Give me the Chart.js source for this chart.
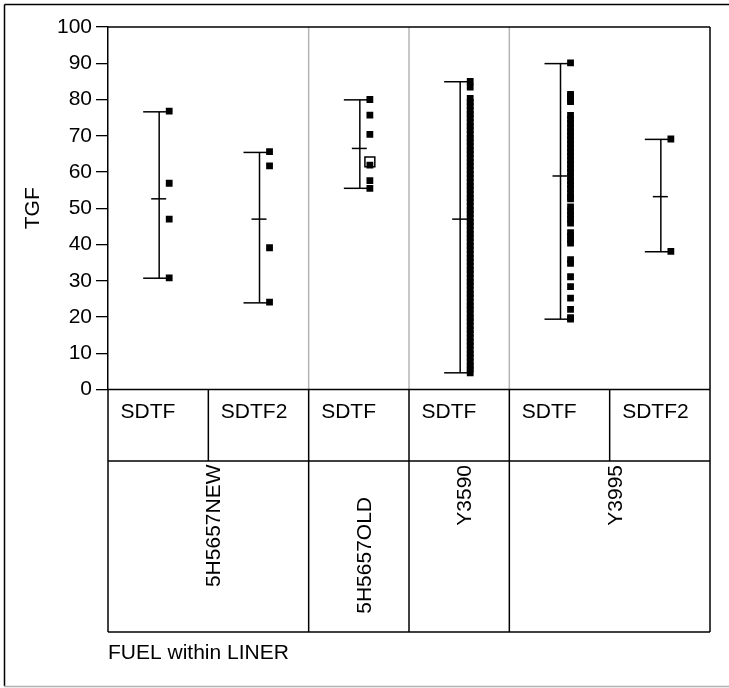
<!DOCTYPE html>
<html>
<head>
<meta charset="utf-8">
<script src="https://cdn.jsdelivr.net/npm/chart.js@4"></script>
<style>
  html, body { margin: 0; padding: 0; background: #fff; }
  canvas { display: block; }
</style>
</head>
<body>
<canvas id="tgfChart" width="729" height="688"></canvas>
<script>
// categories: fuel groups and the liners inside each
const fuels = ['5H5657NEW', '5H5657OLD', 'Y3590', 'Y3995'];
const liners = [['SDTF', 'SDTF2'], ['SDTF'], ['SDTF'], ['SDTF', 'SDTF2']];
const yTicks = [0, 10, 20, 30, 40, 50, 60, 70, 80, 90, 100];

// TGF values, one array per column
const tgfNewSdtf = [76.8, 56.9, 47.0, 30.8];
const tgfNewSdtf2 = [65.6, 61.7, 39.1, 24.1];
const tgfOldSdtf = [80.0, 75.7, 70.4, 61.9, 57.6, 55.5];
const tgfOldOpen = [62.8];
const tgfY3590Sdtf = [85.0, 83.4, 80.3, 79.2, 78.2, 77.0, 75.9, 74.9, 73.7, 72.6, 71.6, 70.4,
    69.3, 68.3, 67.1, 66.0, 65.0, 63.8, 62.7, 61.7, 60.5, 59.4, 58.4, 57.2, 56.1, 55.1, 53.9,
    52.8, 51.8, 50.6, 49.5, 48.5, 47.3, 46.2, 45.2, 44.0, 42.9, 41.9, 40.7, 39.6, 38.6, 37.4,
    36.3, 35.3, 34.1, 33.0, 32.0, 30.8, 29.7, 28.7, 27.5, 26.4, 25.4, 24.2, 23.1, 22.1, 20.9,
    19.8, 18.8, 17.6, 16.5, 15.5, 14.3, 13.2, 12.2, 11.0, 9.9, 8.9, 7.7, 6.6, 5.6, 4.6];
const tgfY3995Sdtf = [90.1, 81.4, 81.0, 80.6, 80.2, 79.8, 79.4, 75.6, 74.5, 73.4, 72.2, 71.1,
    70.0, 68.9, 67.7, 66.6, 65.5, 64.4, 63.2, 62.1, 61.0, 59.9, 58.7, 57.6, 56.5, 55.4, 54.2,
    53.1, 52.6, 50.4, 49.3, 48.1, 47.0, 45.9, 43.3, 42.3, 41.3, 40.4, 35.8, 34.8, 31.1, 28.4,
    25.2, 22.1, 19.8, 19.4];
const tgfY3995Sdtf2 = [69.1, 38.1];

// range bars and mean ticks per column
const tgfMean = [52.6, 47.0, 66.5, 47.0, 58.9, 53.2];
const tgfMin = [30.7, 23.9, 55.5, 4.6, 19.4, 38.0];
const tgfMax = [76.6, 65.4, 79.9, 84.9, 89.9, 69.0];

const columns = [tgfNewSdtf, tgfNewSdtf2, tgfOldSdtf, tgfY3590Sdtf, tgfY3995Sdtf, tgfY3995Sdtf2];

const FONT = "'Liberation Sans', Arial, sans-serif";
Chart.defaults.font.family = FONT;
Chart.defaults.font.size = 21;
Chart.defaults.color = '#000';

function toPoints(values, col) {
    return values.map(v => ({ x: col + 0.61, y: v }));
}

function line(ctx, x1, y1, x2, y2) {
    ctx.beginPath();
    ctx.moveTo(x1, y1);
    ctx.lineTo(x2, y2);
    ctx.stroke();
}

const framePlugin = {
    id: 'frame',
    beforeDraw(chart) {
        const ctx = chart.ctx;
        ctx.save();
        ctx.fillStyle = '#fff';
        ctx.fillRect(0, 0, chart.width, chart.height);
        ctx.strokeStyle = '#000';
        ctx.lineWidth = 1.5;
        line(ctx, 4.5, 4.5, chart.width, 4.5);
        line(ctx, 4.5, 4.5, 4.5, 686);
        ctx.strokeStyle = '#b0b0b0';
        line(ctx, 4, 686.5, chart.width, 686.5);
        ctx.restore();
    },
    beforeDatasetsDraw(chart) {
        const { ctx, chartArea: a, scales: { x, y } } = chart;
        ctx.save();
        // group dividers
        ctx.strokeStyle = '#b4b4b4';
        ctx.lineWidth = 1.5;
        let col = 0;
        liners.forEach((l, i) => {
            if (i > 0) {
                const px = x.getPixelForValue(col);
                line(ctx, px, a.top, px, a.bottom);
            }
            col += l.length;
        });
        // range bars with mean
        ctx.strokeStyle = '#000';
        ctx.lineWidth = 1.5;
        tgfMean.forEach((m, i) => {
            const px = x.getPixelForValue(i + 0.51);
            const top = y.getPixelForValue(tgfMax[i]);
            const bot = y.getPixelForValue(tgfMin[i]);
            const mid = y.getPixelForValue(m);
            line(ctx, px, top, px, bot);
            line(ctx, px - 16, top, px + 10, top);
            line(ctx, px - 16, bot, px + 10, bot);
            line(ctx, px - 8, mid, px + 7, mid);
        });
        ctx.restore();
    },
    afterDraw(chart) {
        const { ctx, chartArea: a, scales: { x } } = chart;
        const row1 = a.bottom + 71.5;
        const row2 = a.bottom + 242.5;
        const labelTop = [3.5, 36, 4, 4];
        ctx.save();
        ctx.strokeStyle = '#000';
        ctx.lineWidth = 1.5;
        line(ctx, a.left, a.top, a.right, a.top);
        line(ctx, a.right, a.top, a.right, row2);
        line(ctx, a.left, a.bottom, a.left, row2);
        [a.bottom, row1, row2].forEach(yy => line(ctx, a.left, yy, a.right, yy));

        ctx.fillStyle = '#000';
        ctx.font = '21px ' + FONT;
        ctx.textBaseline = 'alphabetic';
        let col = 0;
        fuels.forEach((fuel, gi) => {
            const start = col;
            if (start > 0) {
                const px = x.getPixelForValue(start);
                line(ctx, px, row1, px, row2);
            }
            liners[gi].forEach(name => {
                const xl = x.getPixelForValue(col);
                if (col > 0) line(ctx, xl, a.bottom, xl, row1);
                ctx.textAlign = 'left';
                ctx.fillText(name, xl + 12.5, a.bottom + 28);
                col++;
            });
            const cx = x.getPixelForValue((start + col) / 2);
            ctx.save();
            ctx.translate(cx + 12, row1 + labelTop[gi]);
            ctx.rotate(-Math.PI / 2);
            ctx.textAlign = 'right';
            ctx.fillText(fuel, 0, 0);
            ctx.restore();
        });
        ctx.textAlign = 'left';
        ctx.fillText('FUEL within LINER', a.left, 659);
        ctx.restore();
    }
};

const pointStyle = {
    pointStyle: 'rect',
    pointRadius: 4.8,
    pointHoverRadius: 4.8,
    pointBackgroundColor: '#000',
    pointBorderWidth: 0,
    showLine: false,
    order: 0
};

const datasets = columns.map((vals, i) => Object.assign({
    label: fuels[0] + i,
    data: toPoints(vals, i)
}, pointStyle));

datasets.push({
    label: 'open',
    data: toPoints(tgfOldOpen, 2),
    pointStyle: 'rect',
    pointRadius: 7,
    pointBackgroundColor: '#fff',
    pointBorderColor: '#000',
    pointBorderWidth: 1.5,
    showLine: false,
    order: 1
});

new Chart(document.getElementById('tgfChart'), {
    type: 'scatter',
    data: { datasets },
    options: {
        responsive: false,
        animation: false,
        layout: { padding: { left: 0, top: 27, right: 19, bottom: 298.5 } },
        plugins: { legend: { display: false }, tooltip: { enabled: false } },
        scales: {
            x: { type: 'linear', min: 0, max: 6, display: false },
            y: {
                min: 0,
                max: 100,
                afterBuildTicks: s => { s.ticks = yTicks.map(v => ({ value: v })); },
                afterFit: s => { s.width = 108; },
                ticks: { padding: 4, color: '#000', font: { size: 21 } },
                grid: { drawOnChartArea: false, tickLength: 12, color: '#000', lineWidth: 1.3 },
                border: { display: true, color: '#000', width: 1.5 },
                title: { display: true, text: 'TGF', color: '#000', font: { size: 21 }, padding: { top: 21 } }
            }
        }
    },
    plugins: [framePlugin]
});
</script>
</body>
</html>
